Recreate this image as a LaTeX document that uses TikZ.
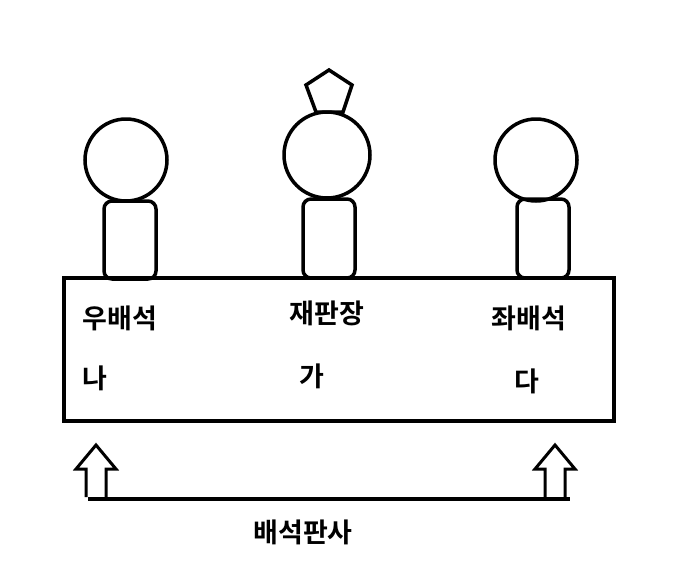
\documentclass[tikz,border=0pt]{standalone}
\usepackage{fontspec}
\newfontfamily\kr{Noto Sans CJK KR}[BoldFont={* Bold}]
\begin{document}
\begin{tikzpicture}[x=1pt,y=-1pt,line width=3.5pt,
  lbl/.style={font=\kr\bfseries\fontsize{27}{30}\selectfont},
  body/.style={draw,rounded corners=8pt}]
\useasboundingbox (0,0) rectangle (676,573);
\node[draw,minimum width=550pt,minimum height=143pt,inner sep=0pt,line width=4pt] (table) at (339,349.5) {};
\node[draw,circle,minimum size=82pt,inner sep=0pt] (h1) at (126,160) {};
\node[draw,circle,minimum size=86pt,inner sep=0pt] (h2) at (327,155) {};
\node[draw,circle,minimum size=82pt,inner sep=0pt] (h3) at (536,160) {};
\draw[body] (104,201) rectangle (156,279);
\draw[body] (303,199) rectangle (355,278);
\draw[body] (517,199) rectangle (569,278);
\draw[line join=miter] (329,70) -- (352,85) -- (343,112) -- (316,112) -- (306,85) -- cycle;
\node[lbl] (t1) at (120,318) {우배석};
\node[lbl] (t2) at (327,313) {재판장};
\node[lbl] (t3) at (529,318) {좌배석};
\node[lbl] (g1) at (95,378) {나};
\node[lbl] (g2) at (312,376) {가};
\node[lbl] (g3) at (527,381) {다};
\draw[line width=3pt,line join=miter] (86,497) -- (86,469) -- (76,469) -- (96,445) -- (116,469) -- (106,469) -- (106,497);
\draw[line width=3pt,line join=miter] (545,497) -- (545,469) -- (535,469) -- (555,445) -- (575,469) -- (565,469) -- (565,497);
\draw[line width=4pt] (88,499) -- (570,499);
\node[lbl] (bot) at (303,532) {배석판사};
\end{tikzpicture}
\end{document}
